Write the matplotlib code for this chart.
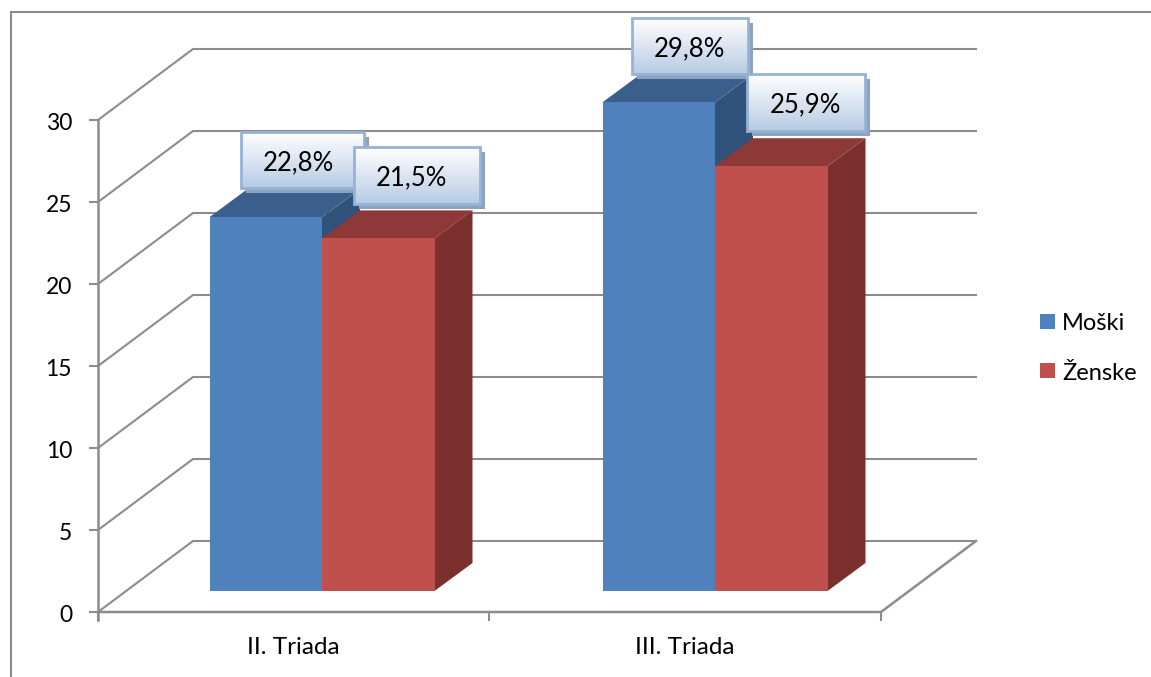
import numpy as np
import matplotlib
matplotlib.use('Agg')
import matplotlib.pyplot as plt
from matplotlib.patches import Polygon, Rectangle

categories = ['II. Triada', 'III. Triada']
series_names = ['Moški', 'Ženske']
moski = [22.8, 29.8]
zenske = [21.5, 25.9]
y_ticks = [0, 5, 10, 15, 20, 25, 30]

W, H = 1151, 677
plt.rcParams['font.family'] = ['Lato', 'DejaVu Sans']

fig = plt.figure(figsize=(W / 100, H / 100), dpi=100)
# front plane of the 3d box: x 98-881 px, y 612 (0) to 120 (30) px
ax = fig.add_axes([98 / W, 1 - 612 / H, 783 / W, 492 / H])
ax.set_xlim(0, 2)
ax.set_ylim(0, 30)
ax.axis('off')

px_x = 2 / 783
px_y = 30 / 492


def to_x(px):
  return (px - 98) * px_x


def to_y(px):
  return (612 - px) * px_y


grid_col = '#8c8c8c'
depth_x = 95 * px_x
depth_y = 71 * px_y

# walls and gridlines
for tick in y_ticks:
  ax.plot([0, depth_x, 2 + depth_x], [tick, tick + depth_y, tick + depth_y],
          color=grid_col, lw=1.5, clip_on=False, zorder=1, solid_joinstyle='miter')
  ax.plot([-8 * px_x, 0], [tick, tick], color=grid_col, lw=1.5, clip_on=False, zorder=1)
  ax.text(-26 * px_x, tick - 4 * px_y, str(tick), ha='right', va='center', fontsize=16.5, color='black')

# axes and floor
ax.plot([0, 0], [to_y(620), 30], color=grid_col, lw=1.8, clip_on=False, zorder=1)
ax.plot([0, 2, 2 + depth_x], [0, 0, depth_y], color=grid_col, lw=1.8, clip_on=False, zorder=1)
for i in range(3):
  ax.plot([i, i], [to_y(620), 0], color=grid_col, lw=1.5, clip_on=False, zorder=1)
for i, name in enumerate(categories):
  ax.text(to_x([293, 685][i]), to_y(647), name, ha='center', va='center', fontsize=17.5)

# bars
bar_w = 112.5 * px_x
bar_dx = 38 * px_x
bar_dy = 28 * px_y
base = to_y(591)
centers = [to_x(322), to_x(715)]
styles = [('#4f81bd', '#3b5f8d', '#31527a'), ('#c0504d', '#8e3937', '#7b302e')]

# label boxes as px: left, top, right, bottom, then text centre
boxes = [[(241, 132, 364, 188), (354, 147, 480, 204)],
         [(632, 18, 748, 74), (747, 74, 865, 131)]]
text_pos = [[(298, 163), (411, 178)], [(689, 49), (805, 105)]]

z = 3
for c, center in enumerate(centers):
  for s, values in enumerate([moski, zenske]):
    left = center + (s - 1) * bar_w
    right = left + bar_w
    top = base + values[c]
    front, upper, side = styles[s]
    ax.add_patch(Polygon([(right, base), (right + bar_dx, base + bar_dy),
                          (right + bar_dx, top + bar_dy), (right, top)],
                         fc=side, ec='none', clip_on=False, zorder=z))
    ax.add_patch(Polygon([(left, top), (left + bar_dx, top + bar_dy),
                          (right + bar_dx, top + bar_dy), (right, top)],
                         fc=upper, ec='none', clip_on=False, zorder=z))
    ax.add_patch(Rectangle((left, base), bar_w, values[c], fc=front, ec='none',
                           clip_on=False, zorder=z + 0.1))
    z += 1

# data labels go on top of all bars
gradient = np.linspace(0, 1, 64).reshape(-1, 1)
cmap = matplotlib.colors.LinearSegmentedColormap.from_list('box', ['#ffffff', '#b7cbe3'])
z = 10
for c in range(2):
  for s, values in enumerate([moski, zenske]):
    x0, y0, x1, y1 = boxes[c][s]
    ax.add_patch(Rectangle((to_x(x0 + 5), to_y(y1 + 5)), (x1 - x0) * px_x, (y1 - y0) * px_y,
                           fc='#8ea3bf', ec='none', clip_on=False, zorder=z))
    im = ax.imshow(gradient, cmap=cmap, aspect='auto', zorder=z + 0.1, interpolation='bilinear',
                   extent=(to_x(x0), to_x(x1), to_y(y1), to_y(y0)), origin='upper')
    im.set_clip_on(False)
    ax.add_patch(Rectangle((to_x(x0), to_y(y1)), (x1 - x0) * px_x, (y1 - y0) * px_y,
                           fc='none', ec='#95b3d7', lw=2, clip_on=False, zorder=z + 0.2))
    label = f'{values[c]:.1f}%'.replace('.', ',')
    tx, ty = text_pos[c][s]
    ax.text(to_x(tx), to_y(ty), label, ha='center', va='center',
            fontsize=18.5, color='black', zorder=z + 0.3)
    z += 1
ax.set_xlim(0, 2)
ax.set_ylim(0, 30)

# legend
for s, name in enumerate(series_names):
  ypx = [322, 371][s]
  ax.add_patch(Rectangle((to_x(1040), to_y(ypx + 7.5)), 15 * px_x, 15 * px_y,
                         fc=styles[s][0], ec='none', clip_on=False))
  ax.text(to_x(1062), to_y(ypx + 2), name, ha='left', va='center', fontsize=17)

# outer chart frame
fig.add_artist(plt.Line2D([11 / W, 11 / W], [0, 1 - 12 / H], color='#8c8c8c', lw=1.5))
fig.add_artist(plt.Line2D([11 / W, 1], [1 - 12 / H, 1 - 12 / H], color='#8c8c8c', lw=1.5))

fig.savefig('out.png', dpi=100)
